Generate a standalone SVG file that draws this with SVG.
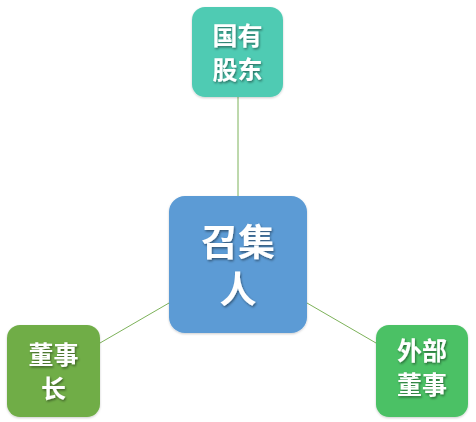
<svg xmlns="http://www.w3.org/2000/svg" width="476" height="422" viewBox="0 0 476 422">
<defs>
<filter id="ts" x="-20%" y="-20%" width="140%" height="140%">
<feDropShadow dx="1" dy="1.5" stdDeviation="0.8" flood-color="#000" flood-opacity="0.45"/>
</filter>
<filter id="bs" x="-10%" y="-10%" width="120%" height="120%">
<feDropShadow dx="0" dy="1" stdDeviation="1" flood-color="#000" flood-opacity="0.2"/>
</filter>
</defs>
<style>
.conn line{stroke:#7DB25A;stroke-width:1}
.t{font-family:"Liberation Sans","Noto Sans CJK SC",sans-serif;font-weight:bold;fill:#fff;text-anchor:middle;filter:url(#ts)}
.s{font-size:25px}
.b{font-size:37px}
</style>
<rect width="476" height="422" fill="#fff"/>
<g id="connectors" class="conn">
<line x1="238" y1="97" x2="238" y2="196"/>
<line x1="100" y1="343" x2="169" y2="303"/>
<line x1="307" y1="303" x2="376" y2="343"/>
</g>
<g id="center">
<rect x="169" y="196" width="138" height="137" rx="16" fill="#5B9BD5" filter="url(#bs)"/>
<text class="t b" x="238" y="256">召集</text>
<text class="t b" x="238" y="303">人</text>
</g>
<g id="top">
<rect x="192" y="7" width="91" height="90" rx="13" fill="#4FCBB3" filter="url(#bs)"/>
<text class="t s" x="237.5" y="45">国有</text>
<text class="t s" x="237.5" y="79">股东</text>
</g>
<g id="left">
<rect x="7" y="325" width="93" height="92" rx="13" fill="#70AD47" filter="url(#bs)"/>
<text class="t s" x="53.5" y="364">董事</text>
<text class="t s" x="53.5" y="398">长</text>
</g>
<g id="right">
<rect x="376" y="325" width="92" height="92" rx="13" fill="#4BC165" filter="url(#bs)"/>
<text class="t s" x="422" y="360">外部</text>
<text class="t s" x="422" y="394">董事</text>
</g>
</svg>
